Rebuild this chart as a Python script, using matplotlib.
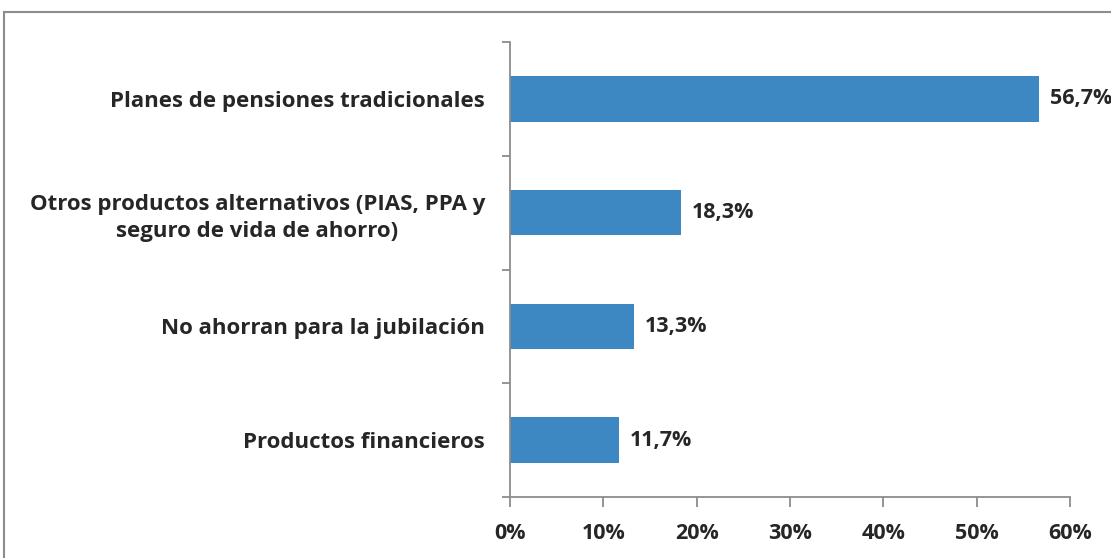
import numpy as np
import matplotlib.pyplot as plt
from matplotlib.patches import Rectangle
from matplotlib.ticker import FixedLocator, PercentFormatter

categories = [
    "Planes de pensiones tradicionales",
    "Otros productos alternativos (PIAS, PPA y\nseguro de vida de ahorro)",
    "No ahorran para la jubilación",
    "Productos financieros",
]
values = [56.7, 18.3, 13.3, 11.7]
value_labels = ["56,7%", "18,3%", "13,3%", "11,7%"]

plt.rcParams["font.family"] = ["Open Sans", "DejaVu Sans"]
text_color = "#262626"
axis_color = "#8c8c8c"
bar_color = "#3d87c3"

fig = plt.figure(figsize=(11.11, 5.58), dpi=100)
ax = fig.add_axes([0.459, 0.1093, 0.504, 0.8154])

y = np.arange(len(categories))
ax.barh(y, values, height=0.4, color=bar_color)
ax.set_ylim(len(categories) - 0.5, -0.5)
ax.set_xlim(0, 60)

for yi, v, lab in zip(y, values, value_labels):
    ax.annotate(lab, (v, yi), xytext=(8, 0), textcoords="offset points",
                va="center", ha="left", fontsize=15.5, fontweight="bold",
                color=text_color, annotation_clip=False)

ax.set_yticks(y)
ax.set_yticklabels(categories, fontsize=16, fontweight="bold",
                   color=text_color, linespacing=1.38)
for t in ax.get_yticklabels():
    t.set_multialignment("center")
ax.tick_params(axis="y", which="major", length=0, pad=18)
ax.yaxis.set_minor_locator(FixedLocator(np.arange(-0.5, len(categories), 1)))
ax.tick_params(axis="y", which="minor", length=6, color=axis_color, width=1.3)

ax.set_xticks(np.arange(0, 61, 10))
ax.xaxis.set_major_formatter(PercentFormatter(decimals=0))
ax.tick_params(axis="x", length=7, color=axis_color, width=1.3, pad=12,
               labelsize=15.5, labelcolor=text_color)
for t in ax.get_xticklabels():
    t.set_fontweight("bold")

for side in ["top", "right"]:
    ax.spines[side].set_visible(False)
for side in ["left", "bottom"]:
    ax.spines[side].set_color(axis_color)
    ax.spines[side].set_linewidth(1.3)

fig.patches.append(Rectangle((4 / 1111, -0.1), 1.1, 1.1 - 12 / 558,
                             transform=fig.transFigure, fill=False,
                             edgecolor="#8c8c8c", linewidth=1.5))

fig.savefig("out.png", dpi=100)
